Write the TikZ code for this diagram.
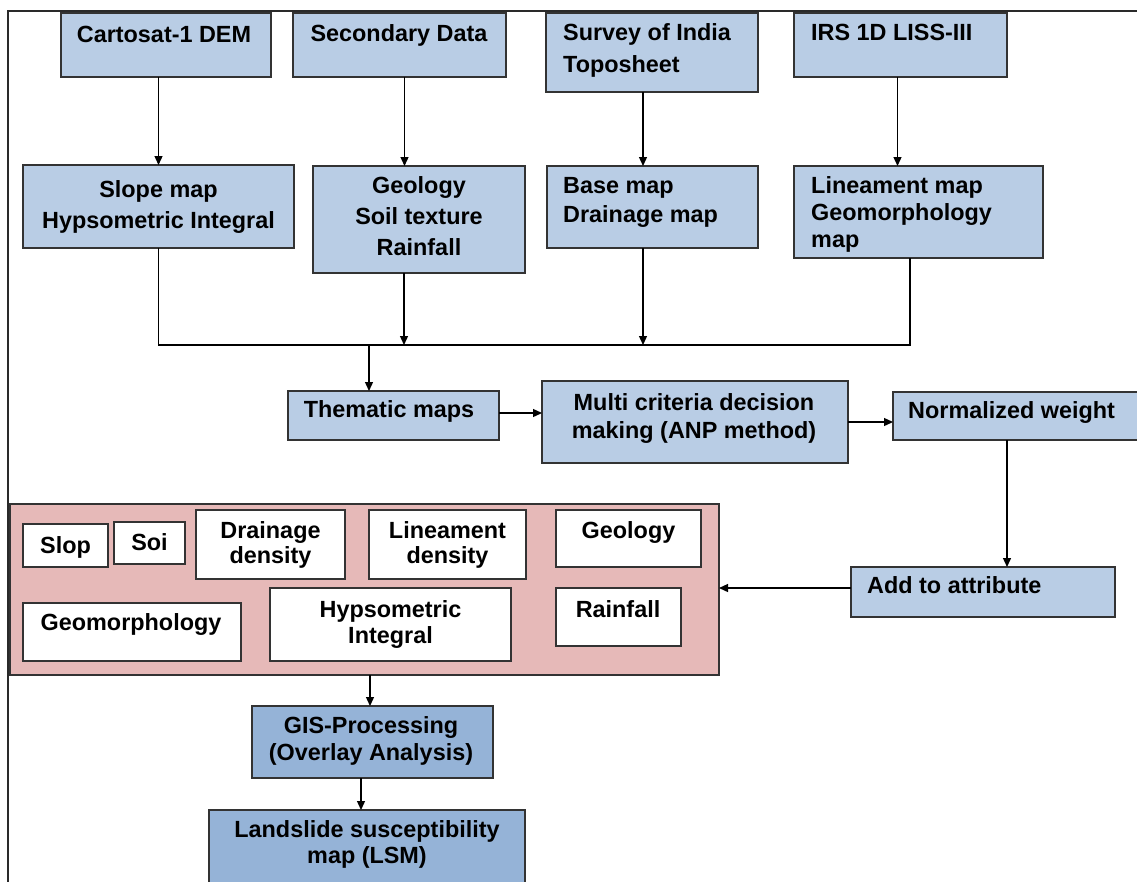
\documentclass[tikz,border=0pt]{standalone}
\usepackage{fontspec}
\setmainfont{Liberation Sans}
\usetikzlibrary{arrows.meta,calc}
\definecolor{lblue}{HTML}{B9CDE5}
\definecolor{dblue}{HTML}{95B3D7}
\definecolor{pinkf}{HTML}{E6B9B8}
\definecolor{bdr}{HTML}{333333}
\definecolor{frm}{HTML}{2A2A2A}
\newcommand\myst{\rule{0pt}{19pt}}
\newcommand\fnt[1]{\fontsize{23.4}{#1}\selectfont\bfseries}
\begin{document}
\begin{tikzpicture}[x=1pt,y=-1pt,
 box/.style={draw=bdr, line width=1.4pt, fill=lblue, inner sep=0pt, outer sep=0pt, anchor=north west},
 wbox/.style={box, fill=white},
 tc/.style={anchor=north, inner sep=0pt, align=center, font=\fnt{31}},
 tl/.style={anchor=north west, inner sep=0pt, align=left, font=\fnt{31}},
 arr/.style={line width=1.3pt, -{Triangle[length=9pt,width=8pt]}},
 ln/.style={line width=1.3pt}]
\useasboundingbox (0,0) rectangle (1137,881);
% frame
\draw[line width=2.6pt, draw=frm] (1140,11) -- (8,11) -- (8,884);
% top row
\node[box, minimum width=210pt, minimum height=64pt] (cart) at (61,13) {};
\node[box, minimum width=213pt, minimum height=64pt] (sec) at (293,13) {};
\node[box, minimum width=212pt, minimum height=79pt] (sur) at (546,13) {};
\node[box, minimum width=213pt, minimum height=64pt] (irs) at (794,13) {};
% second row
\node[box, minimum width=271pt, minimum height=83pt] (slope) at (23,165) {};
\node[box, minimum width=212pt, minimum height=107pt] (geo) at (313,166) {};
\node[box, minimum width=211pt, minimum height=82pt] (base) at (547,166) {};
\node[box, minimum width=249pt, minimum height=92pt] (lin) at (794,166) {};
% middle row
\node[box, minimum width=211pt, minimum height=49pt] (them) at (288,391) {};
\node[box, minimum width=306pt, minimum height=82pt] (mcdm) at (542,381) {};
\node[box, minimum width=250pt, minimum height=48pt] (norm) at (893,392) {};
\node[box, minimum width=264pt, minimum height=50pt] (add) at (851,567) {};
% pink container
\node[box, fill=pinkf, minimum width=709pt, minimum height=171pt] (pink) at (10,504) {};
\node[wbox, minimum width=85pt, minimum height=43pt] (slopw) at (23,524) {};
\node[wbox, minimum width=71pt, minimum height=42pt] (soiw) at (114,522) {};
\node[wbox, minimum width=149pt, minimum height=69pt] (drain) at (196,510) {};
\node[wbox, minimum width=157pt, minimum height=69pt] (lind) at (369,510) {};
\node[wbox, minimum width=145pt, minimum height=57pt] (geol) at (556,510) {};
\node[wbox, minimum width=218pt, minimum height=58pt] (geom) at (23,603) {};
\node[wbox, minimum width=241pt, minimum height=73pt] (hyp) at (270,588) {};
\node[wbox, minimum width=125pt, minimum height=58pt] (rain) at (556,588) {};
% bottom
\node[box, fill=dblue, minimum width=241pt, minimum height=72pt] (gis) at (252,706) {};
\node[box, fill=dblue, minimum width=316pt, minimum height=80pt] (lsm) at (209,810) {};
% texts
\node[tc] (cart-t) at (164,23) {\myst Cartosat-1 DEM};
\node[tc] (sec-t) at (399,22) {\myst Secondary Data};
\node[tl, font=\fnt{32}] (sur-t) at (563,21) {\myst Survey of India\\Toposheet};
\node[tl] (irs-t) at (811,21) {\myst IRS 1D LISS-III};
\node[tc, font=\fnt{31}] (slope-t) at (158.5,178) {\myst Slope map\\Hypsometric Integral};
\node[tc, font=\fnt{31}] (geo-t) at (419,174) {\myst Geology\\Soil texture\\Rainfall};
\node[tl, font=\fnt{29}] (base-t) at (563,174) {\myst Base map\\Drainage map};
\node[tl, font=\fnt{27}] (lin-t) at (811,174) {\myst Lineament map\\Geomorphology\\map};
\node[tc] (them-t) at (389,398) {\myst Thematic maps};
\node[tc, font=\fnt{28}] (mcdm-t) at (694,391) {\myst Multi criteria decision\\making (ANP method)};
\node[tl] (norm-t) at (908,399) {\myst Normalized weight};
\node[tl] (add-t) at (867,574) {\myst Add to attribute};
\node[tc] (slopw-t) at (65.5,534) {\myst Slop};
\node[tc] (soiw-t) at (149.5,531) {\myst Soi};
\node[tc, font=\fnt{25}] (drain-t) at (270.5,519) {\myst Drainage\\density};
\node[tc, font=\fnt{25}] (lind-t) at (447.5,519) {\myst Lineament\\density};
\node[tc] (geol-t) at (628.5,519) {\myst Geology};
\node[tc] (geom-t) at (131,611) {\myst Geomorphology};
\node[tc, font=\fnt{26}] (hyp-t) at (390.5,598) {\myst Hypsometric\\Integral};
\node[tc] (rain-t) at (618,598) {\myst Rainfall};
\node[tc, font=\fnt{27}] (gis-t) at (371,714) {\myst GIS-Processing\\(Overlay Analysis)};
\node[tc, font=\fnt{26}] (lsm-t) at (367,818) {\myst Landslide susceptibility\\map (LSM)};
% connectors
\draw[arr] (cart.south -| slope.north) -- (slope.north);
\draw[arr] ([xshift=5pt]sec.south) -- ([xshift=5pt]sec.south |- geo.north);
\draw[arr] ([xshift=-9pt]sur.south) -- ([xshift=-9pt]sur.south |- base.north);
\draw[arr] ([xshift=-3pt]irs.south) -- ([xshift=-3pt]irs.south |- lin.north);
\coordinate (busL) at (158.5,345);
\coordinate (busT) at (369,345);
\draw[ln] (slope.south) -- (busL) -- ([xshift=-8.5pt]lin.south |- busL) -- ([xshift=-8.5pt]lin.south);
\draw[arr] ([xshift=-15pt]geo.south) -- ([xshift=-15pt]geo.south |- busL);
\draw[arr] ([xshift=-9.5pt]base.south) -- ([xshift=-9.5pt]base.south |- busL);
\draw[arr] (busT) -- (busT |- them.north);
\draw[arr] ([yshift=2.5pt]them.east) -- ([yshift=2.5pt]them.east -| mcdm.west);
\draw[arr] (mcdm.east) -- (mcdm.east -| norm.west);
\draw[arr] ([xshift=-11pt]norm.south) -- ([xshift=-11pt]norm.south |- add.north);
\draw[arr] ([yshift=4pt]add.west) -- ([yshift=4pt]add.west -| pink.east);
\draw[arr] ([xshift=-2.5pt]gis.north |- pink.south) -- ([xshift=-2.5pt]gis.north);
\draw[arr] ([xshift=-11.5pt]gis.south) -- ([xshift=-11.5pt]gis.south |- lsm.north);
\end{tikzpicture}
\end{document}
